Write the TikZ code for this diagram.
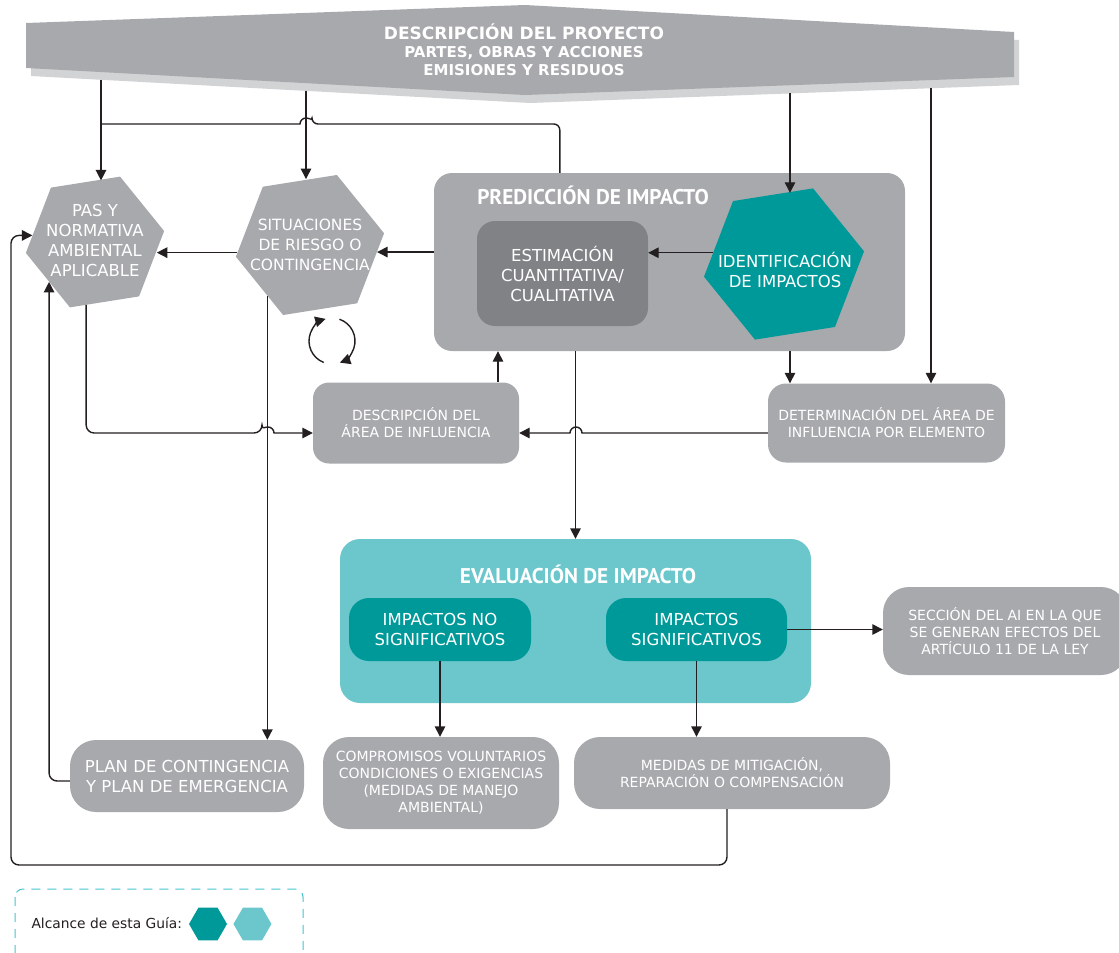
\documentclass[tikz,border=0pt]{standalone}
\usepackage{fontspec}
\setmainfont{DejaVu Sans}
\newfontfamily\titlefont{PT Sans}
\usetikzlibrary{positioning,shapes.geometric,arrows.meta}
\definecolor{boxgray}{HTML}{A7A9AC}
\definecolor{darkbox}{HTML}{808285}
\definecolor{shadowgray}{HTML}{D1D3D4}
\definecolor{tealdark}{HTML}{00999A}
\definecolor{teallight}{HTML}{6BC7CB}
\definecolor{dashteal}{HTML}{45C3CF}
\definecolor{linegray}{HTML}{231F20}
\tikzset{
>={Triangle[length=10.5pt,width=10.5pt]},
  hexa/.style={
    regular polygon,
    regular polygon sides=6,
    shape border rotate=9,
    fill=boxgray,
    inner sep=0pt},
  hextext/.style={
    text=white,
    align=center,
    font=\fontsize{16.5}{20}\selectfont},
  bigbox/.style={
    rectangle,
    rounded corners=18pt,
    fill=boxgray,
    text=white,
    align=center,
    inner sep=0pt,
    font=\fontsize{16.5}{20}\selectfont},
  smallbox/.style={
    bigbox,
    font=\fontsize{14}{17}\selectfont},
  headtitle/.style={
    text=white,
    font=\titlefont\bfseries\fontsize{21.3}{24}\selectfont},
  line/.style={draw=linegray, line width=1.4pt, ->},
  plainline/.style={draw=linegray, line width=1.4pt},
}
\begin{document}
\begin{tikzpicture}
  [x=1pt, y=-1pt]
  \useasboundingbox (0,0) rectangle (1119,953);
  \clip (0,0) rectangle (1119,953);
  % banner with its shadow
  \fill[shadowgray] (31,31) -- (530,13) -- (1019,40) -- (1019,85) -- (530,103) -- (31,76) -- cycle;
  \fill[boxgray] (26,23) -- (525,5) -- (1014,32) -- (1014,77) -- (525,95) -- (26,68) -- cycle;
  \node[text=white, align=center, font=\bfseries\fontsize{15}{18}\selectfont] (Proyecto) at (524,50)
    {{\fontsize{17}{18}\selectfont DESCRIPCIÓN DEL PROYECTO}\\PARTES, OBRAS Y ACCIONES\\EMISIONES Y RESIDUOS};
  \coordinate (b1) at (101,80);
  \coordinate (b2) at (306,91);
  \coordinate (b3) at (790,93);
  \coordinate (b4) at (931,88);
  \coordinate (jpas) at (101,124);
  \coordinate (loop) at (11,865);
  \coordinate (cyc) at (332,341);

  % prediction block
  \node[bigbox, minimum width=471pt, minimum height=178pt] (Prediccion) at (669.5,262) {};
  \node[headtitle] (PredTitulo) at (593,195) {PREDICCIÓN DE IMPACTO};
  \node[bigbox, fill=darkbox, minimum width=171pt, minimum height=105pt] (Estimacion) at (562.5,273.5)
    {ESTIMACIÓN\\CUANTITATIVA/\\CUALITATIVA};
  \node[hexa, fill=tealdark, minimum size=162pt] (Identificacion) at (784,264) {};
  \node[hextext] (IdentTexto) at (785,270) {IDENTIFICACIÓN\\DE IMPACTOS};

  % hexagons on the left
  \node[hexa, minimum size=140pt] (PAS) at (95,242) {};
  \node[hextext] (PASTexto) at (95,240) {PAS Y\\NORMATIVA\\AMBIENTAL\\APLICABLE};
  \node[hexa, minimum size=150pt] (Riesgo) at (310,245) {};
  \node[hextext, font=\fontsize{15.5}{20}\selectfont] (RiesgoTexto) at (310,245) {SITUACIONES\\DE RIESGO O\\CONTINGENCIA};

  % influence area
  \node[smallbox, rounded corners=16pt, minimum width=206pt, minimum height=81pt] (DescArea) at (416,423)
    {DESCRIPCIÓN DEL\\ÁREA DE INFLUENCIA};
  \node[smallbox, minimum width=237pt, minimum height=79pt] (DetArea) at (886.5,423)
    {DETERMINACIÓN DEL ÁREA DE\\INFLUENCIA POR ELEMENTO};

  % evaluation block
  \node[bigbox, fill=teallight, rounded corners=20pt, minimum width=471pt, minimum height=164pt] (Evaluacion) at (575.5,621) {};
  \node[headtitle] (EvalTitulo) at (578,574) {EVALUACIÓN DE IMPACTO};
  \node[bigbox, fill=tealdark, rounded corners=20pt, minimum width=182pt, minimum height=63pt] (NoSignif) at (440,629.5)
    {IMPACTOS NO\\SIGNIFICATIVOS};
  \node[bigbox, fill=tealdark, rounded corners=20pt, minimum width=181pt, minimum height=63pt] (Signif) at (696.5,629.5)
    {IMPACTOS\\SIGNIFICATIVOS};
  \node[smallbox, rounded corners=26pt, minimum width=244pt, minimum height=88pt] (Seccion) at (1005,631)
    {SECCIÓN DEL AI EN LA QUE\\SE GENERAN EFECTOS DEL\\ARTÍCULO 11 DE LA LEY};

  % bottom row
  \node[bigbox, rounded corners=26pt, minimum width=234pt, minimum height=72pt] (PlanCont) at (187,776)
    {PLAN DE CONTINGENCIA\\Y PLAN DE EMERGENCIA};
  \node[smallbox, rounded corners=26pt, minimum width=236pt, minimum height=92pt] (Compromisos) at (441,783)
    {COMPROMISOS VOLUNTARIOS\\CONDICIONES O EXIGENCIAS\\(MEDIDAS DE MANEJO\\AMBIENTAL)};
  \node[smallbox, rounded corners=26pt, minimum width=316pt, minimum height=72pt] (Medidas) at (732,773)
    {MEDIDAS DE MITIGACIÓN,\\REPARACIÓN O COMPENSACIÓN};

  % connectors from the banner
  \draw[line] (b1) -- (b1 |- PAS.north);
  \draw[line] (b2) -- (b2 |- Riesgo.north);
  \draw[line] (b3) -- (b3 |- Identificacion.north);
  \draw[line] (b4) -- (b4 |- DetArea.north);
  \draw[plainline, rounded corners=6pt] ([xshift=126pt]Prediccion.north west) |- (312,124)
    [sharp corners] arc[start angle=0, end angle=180, radius=6pt] -- (jpas);

  % inside and around the prediction
  \draw[line] (Prediccion.west |- Riesgo.-6) -- (Riesgo.-6);
  \draw[line] (Riesgo.186) -- (PAS.-8 |- Riesgo.186);
  \draw[line] (Identificacion.171) -- (Estimacion.east |- Identificacion.171);
  \draw[line] (b3 |- Prediccion.south) -- (b3 |- DetArea.north);
  \draw[line] ([xshift=82pt]DescArea.north) -- ([xshift=82pt]DescArea.north |- Prediccion.south);
  \draw[line] (Evaluacion.north |- Prediccion.south) -- (Evaluacion.north);
  \draw[line, rounded corners=8pt] (PAS.262) |- (262,433)
    [sharp corners] arc[start angle=180, end angle=0, radius=6pt] -- ([yshift=-10pt]DescArea.west);
  \draw[line] ([yshift=-10pt]DetArea.west) -- (582,433)
    arc[start angle=0, end angle=180, radius=6pt] -- ([yshift=-10pt]DescArea.east);

  % cycle between risk and influence area
  \draw[line] ([shift={(249:23pt)}]cyc) arc[start angle=249, end angle=106, radius=23pt];
  \draw[line] ([shift={(71:23pt)}]cyc) arc[start angle=71, end angle=-70, radius=23pt];

  % down to the measures
  \draw[line] (Riesgo.230) -- (Riesgo.230 |- PlanCont.north);
  \draw[line] (NoSignif.south) -- (NoSignif.south |- Compromisos.north);
  \draw[line] (Signif.south) -- (Signif.south |- Medidas.north);
  \draw[line] (Signif.east) -- (Signif.east -| Seccion.west);
  \draw[line, rounded corners=8pt] ([yshift=-5pt]PlanCont.west) -| (PAS.221);
  \draw[line, rounded corners=8pt] ([xshift=-5pt]Medidas.south) |- (loop) |- (PAS.174);

  % legend
  \draw[dashteal, line width=1pt, dash pattern=on 9pt off 7pt, rounded corners=8pt] (15,889) rectangle (303,975);
  \node[anchor=west, text=linegray, font=\fontsize{13.8}{16}\selectfont] (Alcance) at (28,923) {Alcance de esta Guía:};
  \node[hexa, shape border rotate=0, fill=tealdark, minimum size=38pt] (LeyOscuro) at (208,924) {};
  \node[hexa, shape border rotate=0, fill=teallight, minimum size=38pt, right=6pt of LeyOscuro] (LeyClaro) {};
\end{tikzpicture}
\end{document}
